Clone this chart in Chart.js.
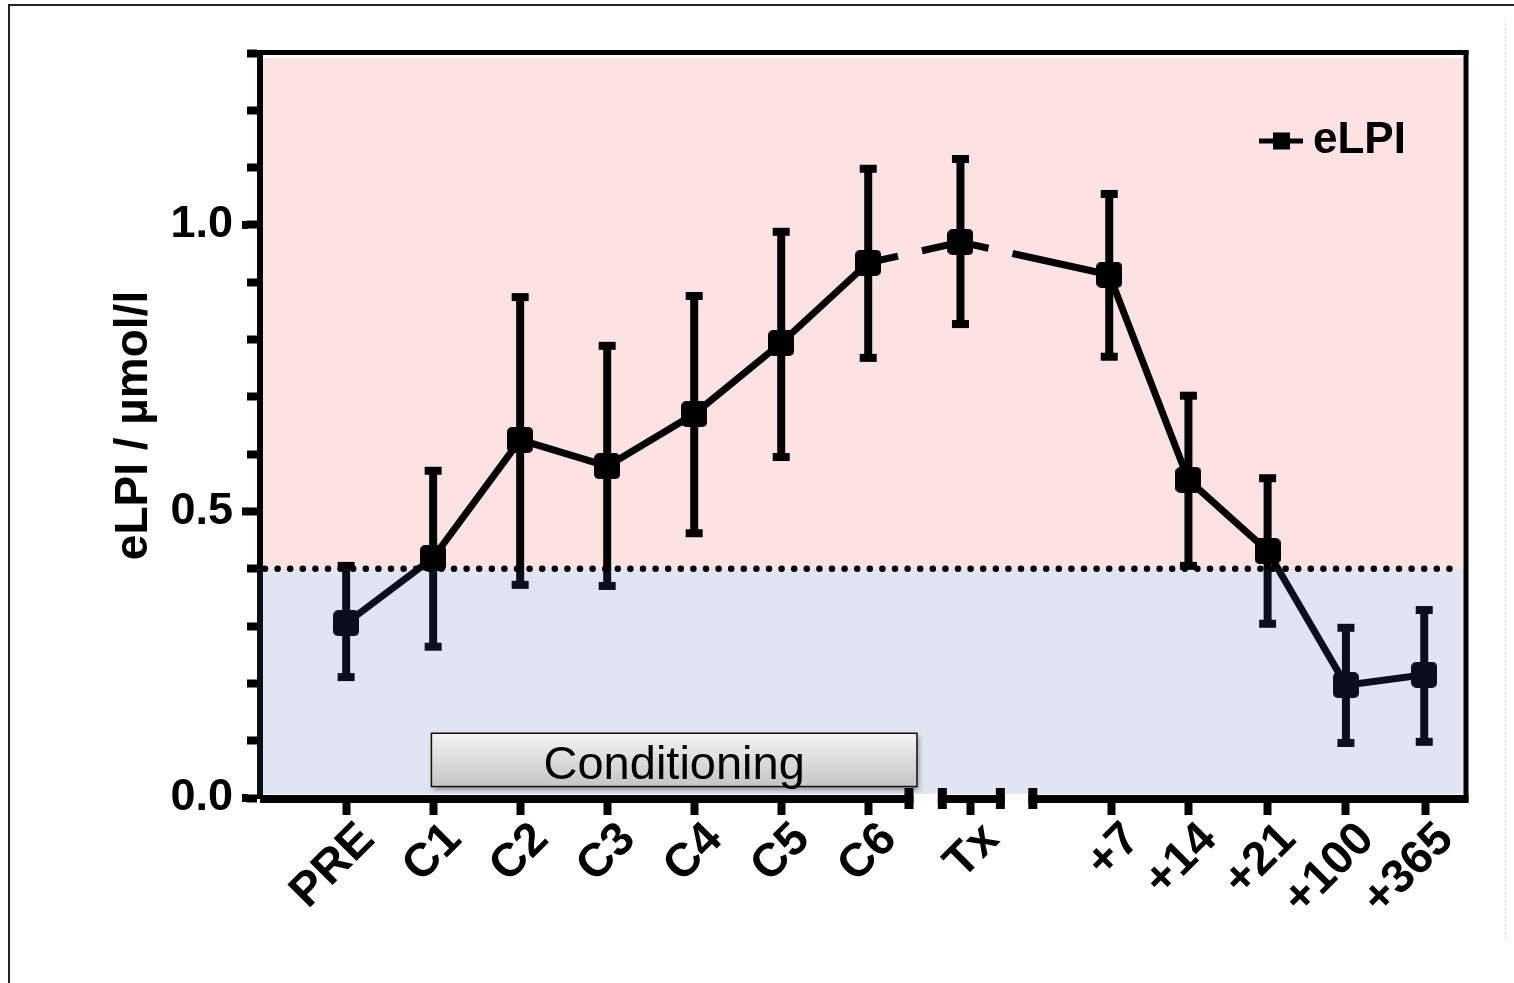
<!DOCTYPE html>
<html lang="en">
<head>
  <meta charset="UTF-8">
  <title>eLPI</title>
  <script src="https://cdn.jsdelivr.net/npm/chart.js"></script>
  <style>
    html, body { margin: 0; padding: 0; background: #fff; }
    canvas { display: block; }
  </style>
</head>
<body>
  <canvas id="chart" width="1514" height="983"></canvas>
  <script>
    // Time points and their place on the (broken) x axis
    const categories = ['PRE', 'C1', 'C2', 'C3', 'C4', 'C5', 'C6', 'Tx', '+7', '+14', '+21', '+100', '+365'];
    const xPos = [0, 1, 2, 3, 4, 5, 6, 7.06, 8.77, 9.68, 10.59, 11.49, 12.39];
    const tickPos = [0, 1, 2, 3, 4, 5, 6, 7.18, 8.8, 9.68, 10.59, 11.49, 12.4];

    // eLPI mean and error bar ends (µmol/l)
    const eLPI = [0.305, 0.419, 0.625, 0.579, 0.670, 0.794, 0.934, 0.970, 0.913, 0.555, 0.431, 0.197, 0.215];
    const errHigh = [0.405, 0.571, 0.874, 0.789, 0.876, 0.988, 1.098, 1.115, 1.054, 0.702, 0.558, 0.297, 0.328];
    const errLow = [0.211, 0.264, 0.372, 0.370, 0.462, 0.595, 0.768, 0.827, 0.770, 0.405, 0.304, 0.096, 0.098];

    const threshold = 0.4;
    const lineGaps = [6.48, 7.52];
    const axisGaps = [[6.52, 6.80], [7.57, 7.84]];
    const conditioning = { label: 'Conditioning', from: 0.98, to: 6.56, lo: 0.02, hi: 0.113 };

    const FONT = '"Liberation Sans", Arial, Helvetica, sans-serif';
    Chart.defaults.font.family = FONT;
    Chart.defaults.color = '#000';

    // marker: small black square with softened corners
    function makeMarker(size, r) {
      const c = document.createElement('canvas');
      c.width = size; c.height = size;
      const g = c.getContext('2d');
      g.fillStyle = '#000';
      g.beginPath();
      g.moveTo(r, 0);
      g.arcTo(size, 0, size, size, r);
      g.arcTo(size, size, 0, size, r);
      g.arcTo(0, size, 0, 0, r);
      g.arcTo(0, 0, size, 0, r);
      g.closePath();
      g.fill();
      return c;
    }
    const marker = makeMarker(26, 5);

    // gaps in the connecting line where it crosses the axis break
    function gapDash(ctx) {
      const sx = ctx.chart.scales.x;
      const p0 = ctx.p0, p1 = ctx.p1;
      for (const g of lineGaps) {
        const gx = sx.getPixelForValue(g);
        if (gx > p0.x && gx < p1.x) {
          const dx = p1.x - p0.x;
          const len = Math.hypot(dx, p1.y - p0.y);
          const k = len / dx;
          const half = 12 * k;
          return [(gx - p0.x) * k - half, 2 * half, len];
        }
      }
      return undefined;
    }

    const isMajor = v => Math.abs(v * 2 - Math.round(v * 2)) < 1e-6;

    const decorations = {
      id: 'decorations',
      beforeDraw(chart) {
        const { ctx, chartArea: a, scales: { y } } = chart;
        const yt = y.getPixelForValue(threshold);
        ctx.save();
        ctx.fillStyle = '#fde2e4';
        ctx.fillRect(a.left, a.top + 5, a.right - a.left - 3, yt - a.top - 5);
        ctx.restore();
      },
      beforeDatasetsDraw(chart) {
        // error bars
        const { ctx, scales: { x, y } } = chart;
        ctx.save();
        ctx.fillStyle = '#000';
        xPos.forEach((xv, i) => {
          const px = x.getPixelForValue(xv);
          const hi = y.getPixelForValue(errHigh[i]);
          const lo = y.getPixelForValue(errLow[i]);
          ctx.fillRect(px - 4, hi, 8, lo - hi);
          ctx.fillRect(px - 8.5, hi - 4, 17, 8);
          ctx.fillRect(px - 8.5, lo - 4, 17, 8);
        });
        ctx.restore();
      },
      afterDatasetsDraw(chart) {
        const { ctx, chartArea: a, scales: { x, y } } = chart;
        const yt = y.getPixelForValue(threshold);
        ctx.save();

        // lower band (tints what lies beneath it)
        ctx.fillStyle = 'rgba(68,93,168,0.16)';
        ctx.fillRect(a.left - 3, yt, a.right - a.left + 3, a.bottom - 4 - yt);

        // dotted threshold line
        ctx.strokeStyle = '#000';
        ctx.lineWidth = 6.5;
        ctx.lineCap = 'round';
        ctx.setLineDash([0, 12.6]);
        ctx.beginPath();
        ctx.moveTo(a.left + 5, yt);
        ctx.lineTo(a.right - 4, yt);
        ctx.stroke();
        ctx.setLineDash([]);
        ctx.lineCap = 'butt';

        // broken x axis
        const ay = a.bottom + 1;
        const pieces = [];
        let start = a.left;
        axisGaps.forEach(([g0, g1]) => {
          pieces.push([start, x.getPixelForValue(g0)]);
          start = x.getPixelForValue(g1);
        });
        pieces.push([start, a.right + 2.5]);
        ctx.fillStyle = '#000';
        pieces.forEach(([p0, p1], i) => {
          ctx.fillRect(p0, ay - 4, p1 - p0, 8);
          if (i > 0) ctx.fillRect(p0, ay - 11, 9, 21);
          if (i < pieces.length - 1) ctx.fillRect(p1 - 9, ay - 11, 9, 21);
        });

        // top and right frame of the plot
        ctx.fillRect(a.left - 3, a.top - 3, a.right - a.left + 5.5, 5);
        ctx.fillRect(a.right - 2.5, a.top - 3, 5, a.bottom - a.top + 7);

        // longer major ticks on y
        [0, 0.5, 1.0].forEach(v => {
          const py = y.getPixelForValue(v);
          ctx.fillRect(a.left - 18, py - 4, 6, 8);
        });

        // Conditioning box
        const bx0 = x.getPixelForValue(conditioning.from);
        const bx1 = x.getPixelForValue(conditioning.to);
        const by0 = y.getPixelForValue(conditioning.hi);
        const by1 = y.getPixelForValue(conditioning.lo);
        ctx.save();
        ctx.shadowColor = 'rgba(0,0,0,0.35)';
        ctx.shadowBlur = 5;
        ctx.shadowOffsetX = 2;
        ctx.shadowOffsetY = 3;
        const grad = ctx.createLinearGradient(0, by0, 0, by1);
        grad.addColorStop(0, '#f3f3f3');
        grad.addColorStop(1, '#c5c5c5');
        ctx.fillStyle = grad;
        ctx.fillRect(bx0, by0, bx1 - bx0, by1 - by0);
        ctx.restore();
        ctx.strokeStyle = '#111';
        ctx.lineWidth = 1.5;
        ctx.strokeRect(bx0, by0, bx1 - bx0, by1 - by0);
        ctx.fillStyle = '#000';
        ctx.font = '47px ' + FONT;
        ctx.textAlign = 'center';
        ctx.textBaseline = 'alphabetic';
        ctx.fillText(conditioning.label, (bx0 + bx1) / 2, by1 - 8);

        // legend
        const lx = a.right - 207, ly = a.top + 88;
        ctx.fillRect(lx, ly - 2.5, 44, 5);
        ctx.fillRect(lx + 14, ly - 8.5, 17, 17);
        ctx.font = 'bold 44px ' + FONT;
        ctx.textAlign = 'left';
        ctx.fillText(chart.data.datasets[0].label, lx + 54, ly + 12);

        // outer figure frame
        ctx.strokeStyle = '#222';
        ctx.lineWidth = 2;
        ctx.beginPath();
        ctx.moveTo(9, chart.height);
        ctx.lineTo(9, 5);
        ctx.lineTo(chart.width, 5);
        ctx.stroke();
        ctx.strokeStyle = '#d5dadd';
        ctx.lineWidth = 1;
        ctx.setLineDash([2, 2]);
        ctx.beginPath();
        ctx.moveTo(1505.5, 20);
        ctx.lineTo(1505.5, 938);
        ctx.stroke();

        ctx.restore();
      }
    };

    new Chart(document.getElementById('chart'), {
      type: 'line',
      data: {
        datasets: [{
          label: 'eLPI',
          data: xPos.map((xv, i) => ({ x: xv, y: eLPI[i] })),
          borderColor: '#000',
          backgroundColor: '#000',
          borderWidth: 7,
          tension: 0,
          pointStyle: marker,
          pointRadius: 13,
          segment: { borderDash: gapDash }
        }]
      },
      options: {
        responsive: false,
        animation: false,
        layout: { padding: { top: 53, right: 48, left: 0, bottom: 0 } },
        plugins: { legend: { display: false }, tooltip: { enabled: false } },
        scales: {
          x: {
            type: 'linear',
            min: -0.99,
            max: 12.87,
            afterBuildTicks: s => { s.ticks = tickPos.map(v => ({ value: v })); },
            afterFit: s => { s.height = 185; s.paddingLeft = 0; s.paddingRight = 0; },
            border: { display: false },
            grid: { drawOnChartArea: false, tickLength: 17, tickWidth: 8, tickColor: '#000' },
            ticks: {
              autoSkip: false,
              minRotation: 45,
              maxRotation: 45,
              padding: -3,
              labelOffset: 21,
              color: '#000',
              font: { size: 47, weight: 'bold' },
              callback: (v, i) => categories[i]
            }
          },
          y: {
            min: 0,
            max: 1.3,
            afterFit: s => { s.width = 260; },
            border: { display: true, width: 6, color: '#000' },
            grid: { drawOnChartArea: false, tickLength: 13, tickWidth: 8, tickColor: '#000' },
            ticks: {
              stepSize: 0.1,
              autoSkip: false,
              padding: 14,
              color: '#000',
              font: { size: 45, weight: 'bold' },
              callback: v => isMajor(v) ? v.toFixed(1) : ''
            },
            title: {
              display: true,
              text: 'eLPI / µmol/l',
              color: '#000',
              font: { size: 46, weight: 'bold', lineHeight: 1 },
              padding: { top: 111 }
            }
          }
        }
      },
      plugins: [decorations]
    });
  </script>
</body>
</html>
